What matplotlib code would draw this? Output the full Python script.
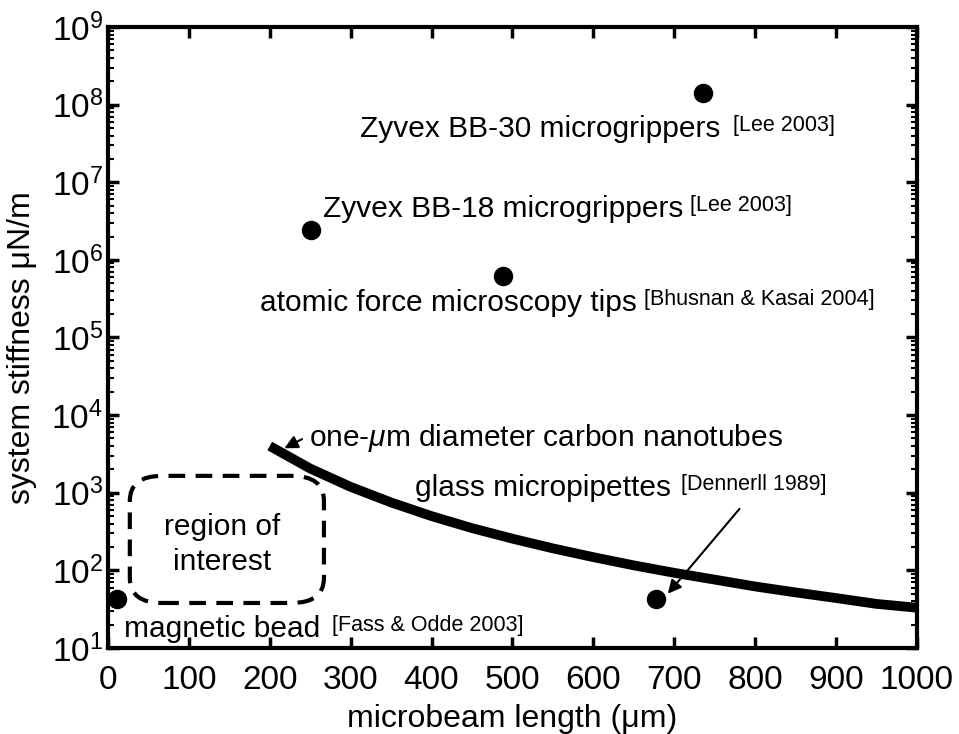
import matplotlib
matplotlib.use('Agg')
import matplotlib.pyplot as plt
from matplotlib.patches import FancyBboxPatch
import numpy as np

plt.rcParams['font.family'] = ['Liberation Sans', 'DejaVu Sans']
plt.rcParams['mathtext.fontset'] = 'custom'
plt.rcParams['mathtext.rm'] = 'Liberation Sans'
plt.rcParams['mathtext.it'] = 'Liberation Sans:italic'
plt.rcParams['mathtext.default'] = 'regular'

# данные
point_names = ['Zyvex BB-30', 'Zyvex BB-18', 'AFM tips', 'magnetic bead', 'glass micropipettes']
point_x = [736, 251, 488, 11, 677]
point_y = [1.4e8, 2.4e6, 6.2e5, 43, 43]

# жёсткость нанотрубки (сплошная кривая)
tube_x = [200, 250, 300, 350, 400, 450, 500, 550, 600, 650, 700, 750, 800, 850, 900, 950, 1000]
tube_y = [4000, 2050, 1190, 750, 500, 350, 256, 192, 148, 116, 93, 76, 62, 52, 44, 37, 33]

# область интереса (прямоугольник со скруглёнными углами)
roi_x = [27, 267]
roi_y = [38, 1650]

x_ticks = list(range(0, 1001, 100))

fig = plt.figure(figsize=(9.59, 7.34), dpi=100)
ax = fig.add_axes([0.1126, 0.1172, 0.8434, 0.846])

ax.plot(tube_x, tube_y, color='black', lw=7, solid_capstyle='butt')
ax.plot(point_x, point_y, 'o', color='black', ms=13)

ax.set_yscale('log')
ax.set_xlim(0, 1000)
ax.set_ylim(1e1, 1e9)
ax.set_xticks(x_ticks)
ax.set_yticks([10.0 ** k for k in range(1, 10)])

ax.tick_params(which='both', direction='in', top=True, right=True, labelsize=24, width=2.5)
ax.tick_params(which='major', length=8)
ax.tick_params(which='minor', length=4, width=1.5)
ax.tick_params(axis='x', pad=12)
for s in ax.spines.values():
    s.set_linewidth(3)

ax.set_xlabel('microbeam length (μm)', fontsize=23, labelpad=6)
ax.set_ylabel('system stiffness μN/m', fontsize=23)
ax.yaxis.set_label_coords(-0.088, 0.483)

# скруглённая рамка "region of interest"
to_ax = ax.transData + ax.transAxes.inverted()
(x0, y0) = to_ax.transform((roi_x[0], roi_y[0]))
(x1, y1) = to_ax.transform((roi_x[1], roi_y[1]))
box = FancyBboxPatch((x0, y0), x1 - x0, y1 - y0, transform=ax.transAxes,
                     boxstyle='round,pad=0,rounding_size=0.04',
                     fill=False, edgecolor='black', lw=3, linestyle=(0, (4, 2.5)))
ax.add_patch(box)

fs = 21.5
rs = 15.5


def label(x, y, txt, ref=None, gap=6):
    t = ax.text(x, y, txt, fontsize=fs, va='center')
    if ref:
        ax.annotate(ref, xy=(1, 1), xycoords=t, xytext=(gap, 0), textcoords='offset points',
                    fontsize=rs, va='top', ha='left')
    return t


label(312, 4.8e7, 'Zyvex BB-30 microgrippers', '[Lee 2003]', 9)
label(266, 4.5e6, 'Zyvex BB-18 microgrippers', '[Lee 2003]', 5)
label(188, 2.8e5, 'atomic force microscopy tips', '[Bhusnan & Kasai 2004]', 5)
label(248, 5.1e3, r'one-$\mathit{\mu}$m diameter carbon nanotubes')
label(380, 1150, 'glass micropipettes', '[Dennerll 1989]', 7)
label(20, 17.5, 'magnetic bead', '[Fass & Odde 2003]', 8)
ax.text(141, 215, 'region of\ninterest', fontsize=fs, va='center', ha='center', linespacing=1.35)

ax.annotate('', xy=(215, 3.6e3), xytext=(243, 5.1e3),
            arrowprops=dict(arrowstyle='-|>', color='black', lw=1.5, mutation_scale=20))
ax.annotate('', xy=(690, 47), xytext=(783, 660),
            arrowprops=dict(arrowstyle='-|>', color='black', lw=1.5, mutation_scale=20))

fig.savefig('out.png', dpi=100)
